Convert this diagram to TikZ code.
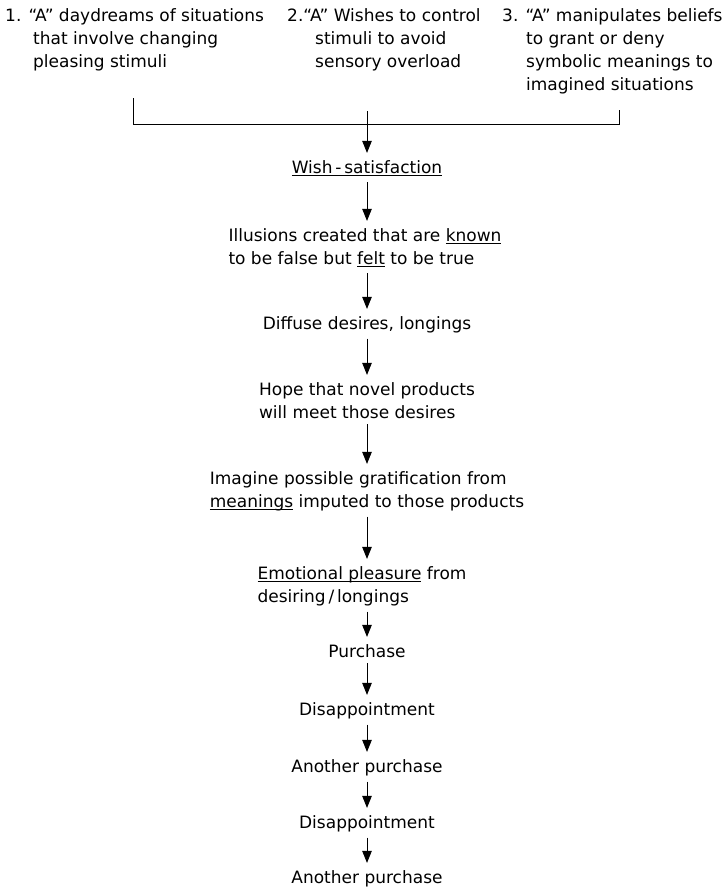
\documentclass[tikz,border=0pt]{standalone}
\usepackage{fontspec}
\setmainfont{DejaVu Sans}
\usetikzlibrary{arrows.meta}
\newcommand{\ulin}[1]{\setbox0=\hbox{#1}\rlap{\rule[-3pt]{\wd0}{0.7pt}}\box0\relax}
\tikzset{
  txt/.style={font=\fontsize{17}{23}\selectfont, inner sep=0pt, align=left},
  ctxt/.style={txt, anchor=base},
  tl/.style={txt, anchor=base west},
  link/.style={line width=0.9pt},
  arr/.style={link, -{Triangle[width=9.5pt,length=12pt]}, shorten >=7pt, shorten <=6pt}
}
\begin{document}
\begin{tikzpicture}[x=1pt,y=-1pt]
\useasboundingbox (0,0) rectangle (728,889);
% top sources (anchor = baseline of last line)
\node[tl] (b1) at (5,67) {1. ``A'' daydreams of situations\\\hspace*{28pt}that involve changing\\\hspace*{28pt}pleasing stimuli};
\node[tl] (b2) at (287,67) {2.``A'' Wishes to control\\\hspace*{28pt}stimuli to avoid\\\hspace*{28pt}sensory overload};
\node[tl] (b3) at (502,90) {3. ``A'' manipulates beliefs\\\hspace*{24pt}to grant or deny\\\hspace*{24pt}symbolic meanings to\\\hspace*{24pt}imagined situations};
% chain (anchor = baseline of last line)
\node[ctxt] (wish) at (367,173) {\ulin{Wish\,-\,satisfaction}};
\node[ctxt] (ill) at (365,264) {Illusions created that are \ulin{known}\\to be false but \ulin{felt} to be true};
\node[ctxt] (dif) at (367,329) {Diffuse desires, longings};
\node[ctxt] (hope) at (367,418) {Hope that novel products\\will meet those desires};
\node[ctxt] (imag) at (367,507) {Imagine possible gratification from\\\ulin{meanings} imputed to those products};
\node[ctxt] (emo) at (362,602) {\ulin{Emotional pleasure} from\\desiring\,/\,longings};
\node[ctxt] (pur) at (367,657) {Purchase};
\node[ctxt] (dis1) at (367,715) {Disappointment};
\node[ctxt] (ano1) at (367,772) {Another purchase};
\node[ctxt] (dis2) at (367,828) {Disappointment};
\node[ctxt] (ano2) at (367,883) {Another purchase};
% collector
\coordinate (col) at (367,0);
\coordinate (j) at (367,124);
\coordinate (c1) at (133,98);
\coordinate (c2) at (367,111);
\coordinate (c3) at (619,110);
\draw[link] (c1) -- (c1 |- j) -- (c3 |- j) -- (c3);
\draw[arr, shorten <=0pt] (c2) -- (wish.north -| col);
\foreach \a/\b in {wish/ill, ill/dif, dif/hope, hope/imag, imag/emo, emo/pur, pur/dis1, dis1/ano1, ano1/dis2, dis2/ano2}
  \draw[arr] (\a.south -| col) -- (\b.north -| col);
\end{tikzpicture}
\end{document}
